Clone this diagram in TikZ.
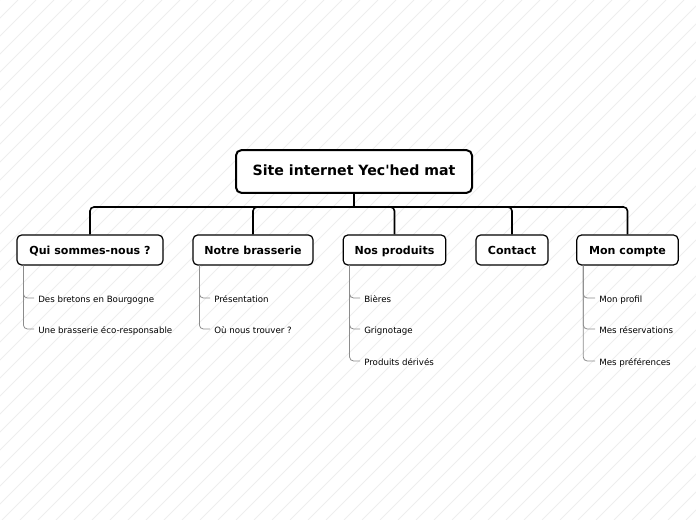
\documentclass[tikz,border=0pt]{standalone}
\usepackage{fontspec}
\setmainfont{DejaVu Sans}
\usepackage{tikz}
\usetikzlibrary{positioning}
\usepackage{xcolor}
\definecolor{stripegray}{HTML}{EEEEEE}
\definecolor{leafgray}{HTML}{8C8C8C}

\begin{document}
\begin{tikzpicture}[
    x=0.75pt, y=-0.75pt,
    rootbox/.style={
        draw=black,
        line width=1.5pt,
        rounded corners=4pt,
        fill=white,
        minimum width=177pt,
        minimum height=32pt,
        text height=1.5ex, text depth=.3ex,
        font=\bfseries\fontsize{10.6}{12}\selectfont,
    },
    topic/.style={
        draw=black,
        line width=0.9pt,
        rounded corners=3.5pt,
        fill=white,
        minimum height=22.5pt,
        text height=1.5ex, text depth=.3ex,
        font=\bfseries\fontsize{8.3}{10}\selectfont,
    },
    leaf/.style={
        anchor=west,
        inner sep=3pt,
        text height=1.5ex, text depth=.3ex,
        font=\fontsize{6.5}{8}\selectfont,
    },
    link/.style={draw=black, line width=1.2pt, rounded corners=3pt},
    leafline/.style={draw=leafgray, line width=0.6pt, rounded corners=3pt},
    stripe/.style={draw=stripegray, line width=0.6pt},
]

\useasboundingbox (0,0) rectangle (696,520);

% background stripes
\begin{scope}
    \clip (0,0) rectangle (696,520);
    \foreach \i in {0,18,...,1224}
        \draw[stripe] (\i-520,520) -- (\i,0);
\end{scope}

% root and main topics
\node[rootbox] (root) at (354,171.5) {Site internet Yec\textquotesingle hed mat};
\node[topic, minimum width=109.5pt] (qui) at (90,250) {Qui sommes-nous ?};
\node[topic, minimum width=90pt] (brasserie) at (253,250) {Notre brasserie};
\node[topic, minimum width=77pt] (produits) at (394.5,250) {Nos produits};
\node[topic, minimum width=54pt] (contact) at (512,250) {Contact};
\node[topic, minimum width=76pt] (compte) at (627.5,250) {Mon compte};

\coordinate (bar) at (354,207);
\draw[link] (root.south) -- (bar);
\foreach \t in {qui,brasserie,produits,contact,compte}
    \draw[link] (bar) -| (\t.north);

% sub-topics
\node[leaf] (qui1) at (34,298) {Des bretons en Bourgogne};
\node[leaf] (qui2) at (34,329) {Une brasserie éco-responsable};
\node[leaf] (brasserie1) at (210,298) {Présentation};
\node[leaf] (brasserie2) at (210,329) {Où nous trouver ?};
\node[leaf] (produits1) at (360,298) {Bières};
\node[leaf] (produits2) at (360,329) {Grignotage};
\node[leaf] (produits3) at (360,361) {Produits dérivés};
\node[leaf] (compte1) at (595,298) {Mon profil};
\node[leaf] (compte2) at (595,329) {Mes réservations};
\node[leaf] (compte3) at (595,361) {Mes préférences};

\foreach \t/\n in {qui/1,qui/2,brasserie/1,brasserie/2,produits/1,produits/2,produits/3,compte/1,compte/2,compte/3}
    \draw[leafline] ([xshift=5.25pt]\t.south west) |- (\t\n.west);

\end{tikzpicture}
\end{document}
